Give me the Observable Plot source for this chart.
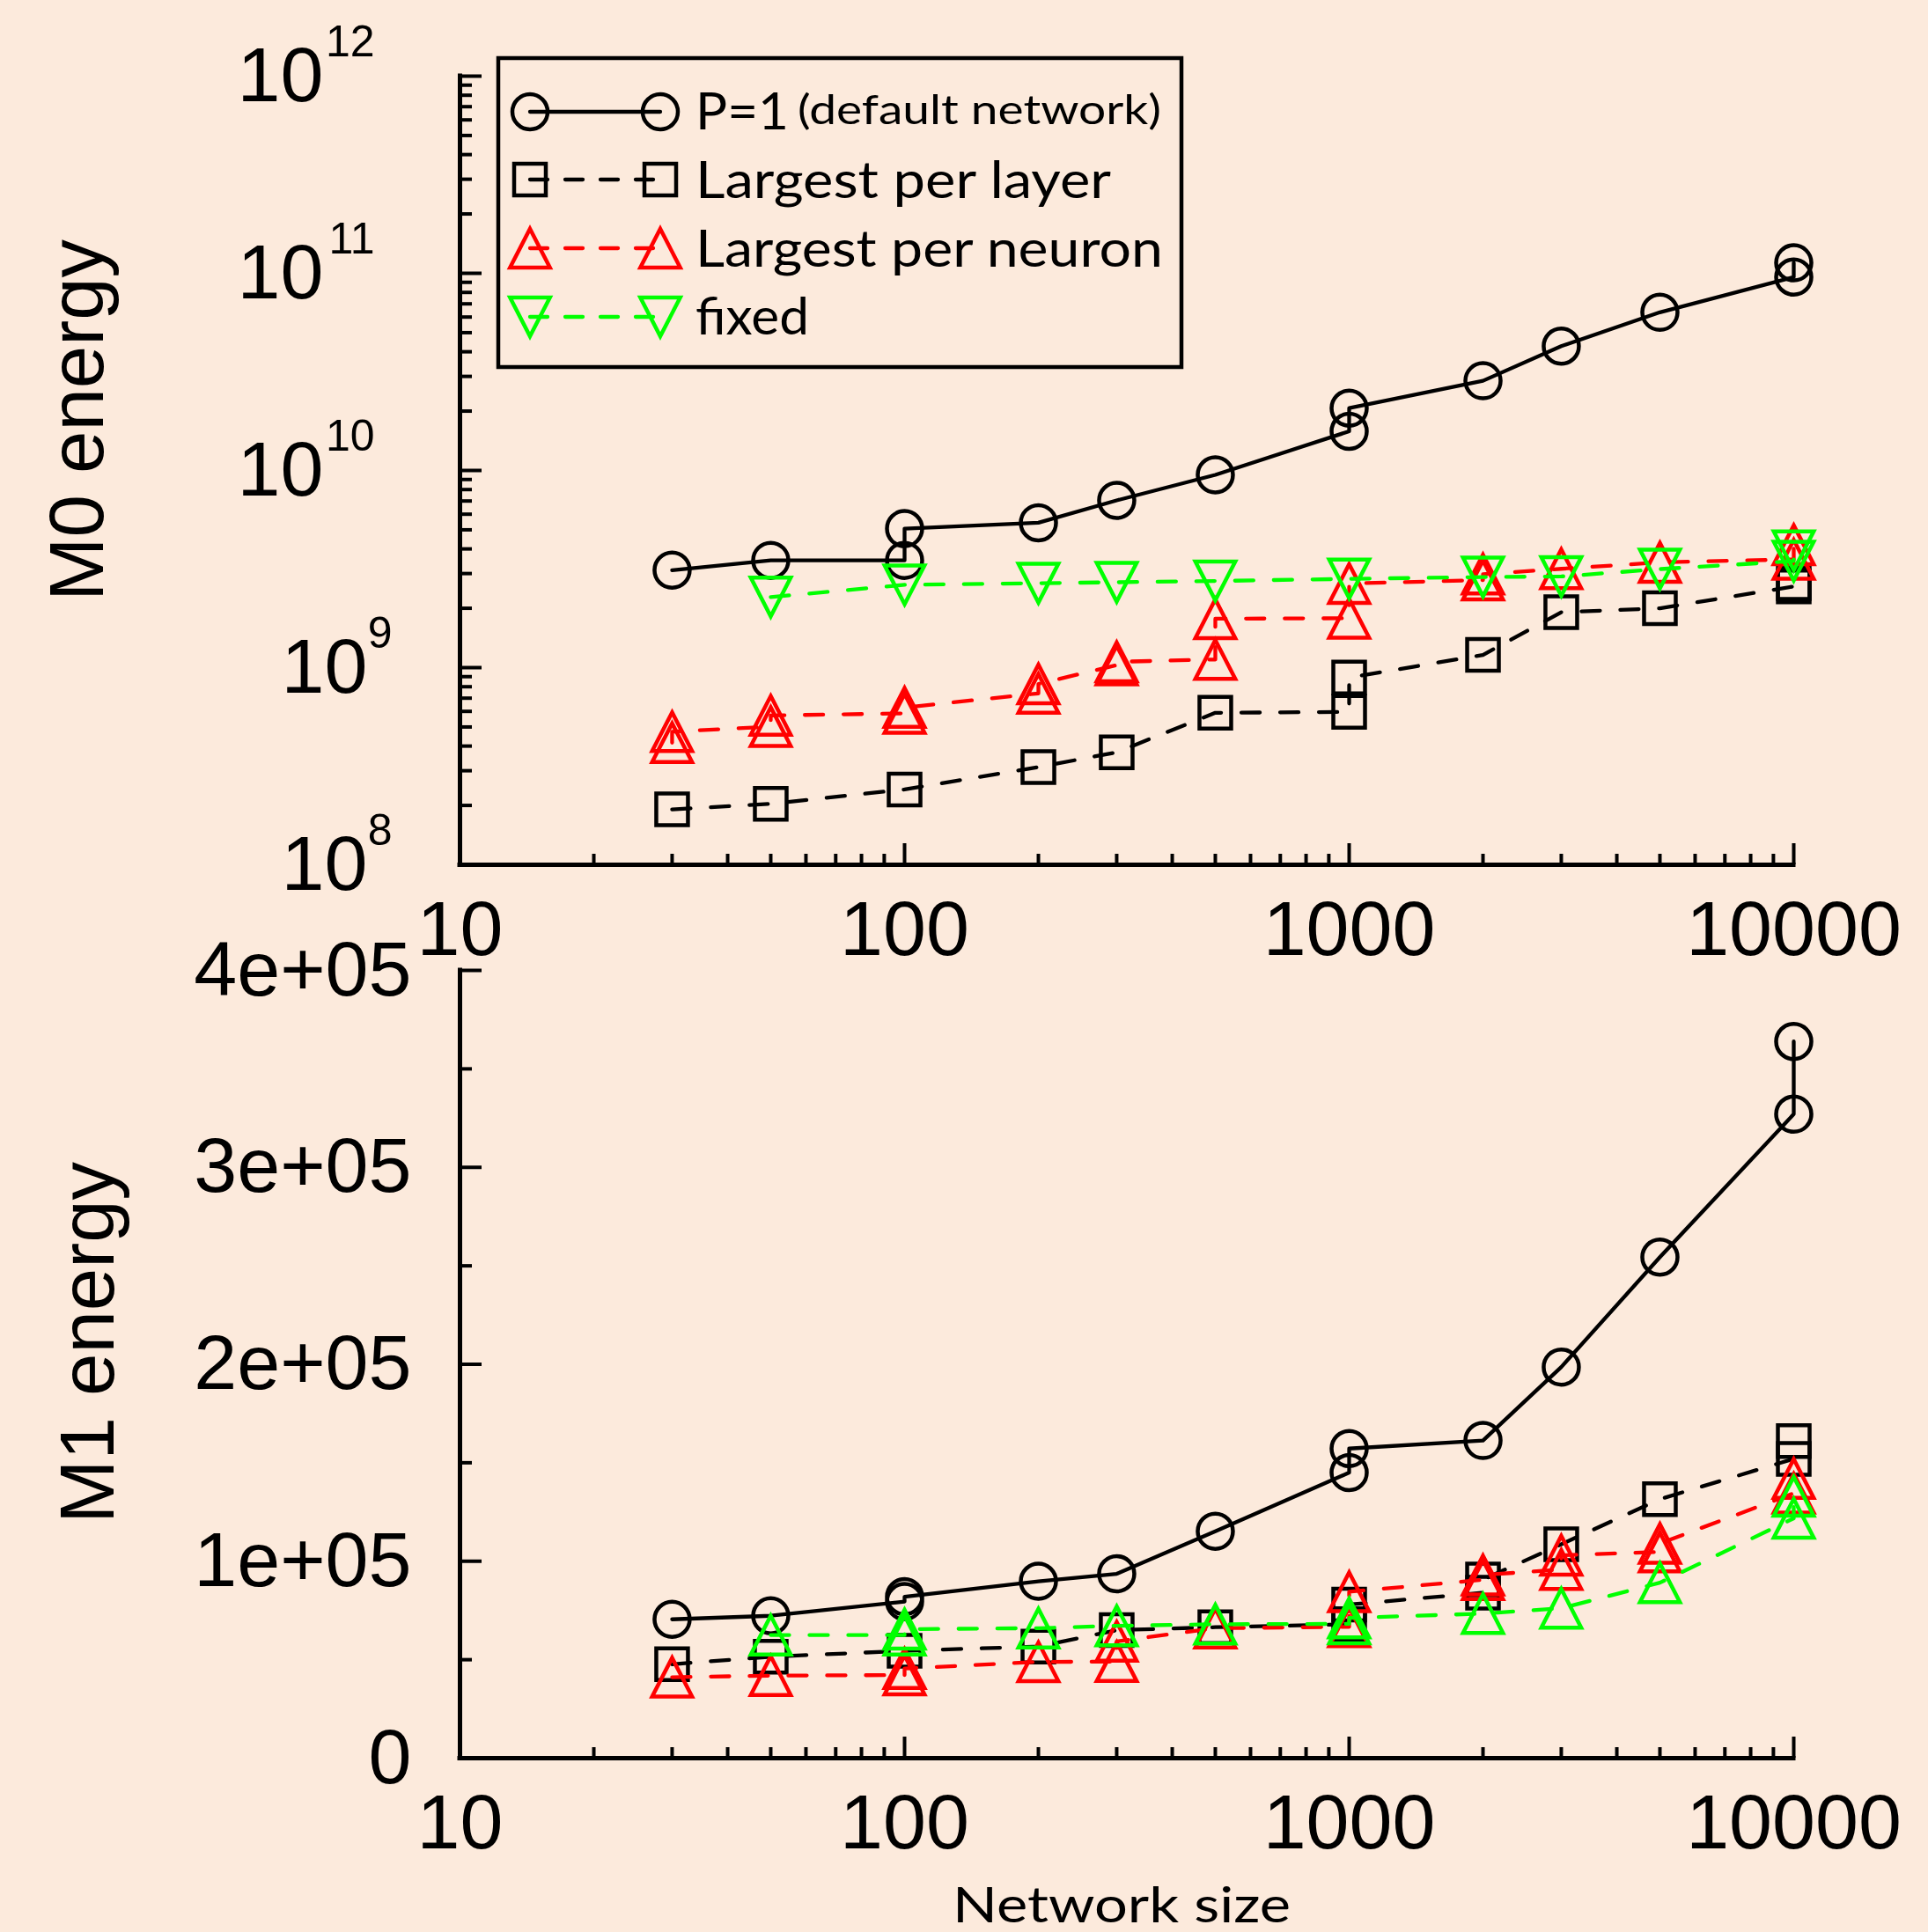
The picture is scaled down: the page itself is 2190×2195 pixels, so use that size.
<!DOCTYPE html>
<html>
<head>
<meta charset="utf-8">
<script src="https://cdn.jsdelivr.net/npm/d3@7"></script>
<script src="https://cdn.jsdelivr.net/npm/@observablehq/plot@0.6"></script>
<style>
html, body { margin: 0; padding: 0; background: #FCEADC; }
#wrap { position: relative; width: 2190px; height: 2195px; overflow: hidden; background: #FCEADC; }
#wrap > svg { position: absolute; left: 0; }
</style>
</head>
<body>
<div id="wrap"></div>
<script>
// ---------------- data ----------------
const seriesNames = ["P=1", "Largest per layer", "Largest per neuron", "fixed"];

const xTicksMajor = [10, 100, 1000, 10000];
const xTickLabels = ["10", "100", "1000", "10000"];
const m0YTicks = [1e8, 1e9, 1e10, 1e11, 1e12];
const m1YTicks = [0, 1e5, 2e5, 3e5, 4e5];
const m1YLabels = ["0", "1e+05", "2e+05", "3e+05", "4e+05"];
const m1YMinor = [5e4, 15e4, 25e4, 35e4];

// M0 energy (top, log scale)
const m0P1Size     = [30, 50, 100, 100, 200, 300, 500, 1000, 1000, 2000, 3000, 5000, 10000, 10000];
const m0P1Energy   = [3.12e9, 3.50e9, 3.50e9, 5.07e9, 5.43e9, 7.05e9, 9.5e9, 1.58e10, 2.07e10, 2.85e10, 4.27e10, 6.34e10, 9.57e10, 1.13e11];
const m0LayerSize  = [30, 50, 100, 200, 300, 500, 1000, 1000, 2000, 3000, 5000, 10000, 10000];
const m0LayerEnergy= [1.91e8, 2.04e8, 2.41e8, 3.13e8, 3.72e8, 5.9e8, 5.96e8, 8.9e8, 1.16e9, 1.91e9, 2.0e9, 2.58e9, 2.68e9];
const m0NeuronSize = [30, 30, 50, 50, 100, 100, 200, 200, 300, 300, 500, 500, 1000, 1000, 2000, 2000, 3000, 5000, 10000, 10000];
const m0NeuronEnergy=[4.16e8, 4.73e8, 5.02e8, 5.72e8, 5.86e8, 6.28e8, 7.4e8, 8.26e8, 1.03e9, 1.07e9, 1.10e9, 1.77e9, 1.78e9, 2.67e9, 2.78e9, 2.98e9, 3.17e9, 3.42e9, 3.54e9, 4.2e9];
const m0FixedSize  = [50, 100, 200, 300, 500, 1000, 2000, 3000, 5000, 10000, 10000];
const m0FixedEnergy= [2.28e9, 2.63e9, 2.68e9, 2.71e9, 2.75e9, 2.82e9, 2.88e9, 2.90e9, 3.16e9, 3.47e9, 3.91e9];

// M1 energy (bottom, linear scale)
const m1P1Size     = [30, 50, 100, 100, 200, 300, 500, 1000, 1000, 2000, 3000, 5000, 10000, 10000];
const m1P1Energy   = [70500, 72300, 79500, 82000, 89800, 93600, 115200, 145000, 157200, 161300, 198600, 254400, 327000, 363900];
const m1LayerSize  = [30, 50, 100, 200, 300, 500, 1000, 1000, 2000, 2000, 3000, 5000, 10000, 10000];
const m1LayerEnergy= [47700, 51500, 54500, 56700, 65000, 66500, 68000, 78000, 84000, 90700, 108600, 131500, 152000, 161000];
const m1NeuronSize = [30, 50, 100, 100, 200, 300, 300, 500, 1000, 1000, 2000, 2000, 3000, 3000, 5000, 5000, 10000, 10000];
const m1NeuronEnergy=[41100, 41900, 42200, 45500, 48900, 49000, 59300, 66000, 66700, 84500, 90600, 93000, 95800, 103000, 104700, 109000, 134500, 142000];
const m1FixedSize  = [50, 100, 100, 200, 300, 500, 1000, 1000, 2000, 3000, 5000, 10000, 10000];
const m1FixedEnergy= [62500, 62500, 65500, 66000, 67200, 68000, 68200, 71200, 73400, 76100, 89100, 121800, 133000];

// ---------------- layout / style ----------------
const W = 2190, L = 522, R = 2037, PW = R - L;
const FONT = "'Liberation Sans', Arial, sans-serif";
const LFONT = "Lato, 'Open Sans', sans-serif";
const LINE_W = 4.3, MARK_W = 4.5, AXIS_W = 5;

const xTicksMinor = [10, 100, 1000].flatMap(d => [2,3,4,5,6,7,8,9].map(k => k * d));
const m0YMinor = [1e8, 1e9, 1e10, 1e11].flatMap(d => [2,3,4,5,6,7,8,9].map(k => k * d));

const symSquare = {draw(c, s) { const r = Math.sqrt(s / Math.PI); c.moveTo(-r, -r); c.lineTo(r, -r); c.lineTo(r, r); c.lineTo(-r, r); c.closePath(); }};
const symUp = {draw(c, s) { const r = Math.sqrt(s / Math.PI); c.moveTo(0, -r); c.lineTo(1.03 * r, r); c.lineTo(-1.03 * r, r); c.closePath(); }};
const symDown = {draw(c, s) { const r = Math.sqrt(s / Math.PI); c.moveTo(0, r); c.lineTo(1.03 * r, -r); c.lineTo(-1.03 * r, -r); c.closePath(); }};

const stP1 = {stroke: "#000000", dash: null, symbol: "circle", r: 20};
const stLayer = {stroke: "#000000", dash: "21,23", symbol: symSquare, r: 18};
const stNeuron = {stroke: "#FF0000", dash: "21,23", symbol: symUp, r: 22};
const stFixedTop = {stroke: "#00FF00", dash: "21,23", symbol: symDown, r: 22};
const stFixedBot = {stroke: "#00FF00", dash: "21,23", symbol: symUp, r: 22};

function seriesMarks(xs, ys, st) {
  const rows = xs.map((x, i) => ({x, y: ys[i]}));
  const lineOpts = {x: "x", y: "y", stroke: st.stroke, strokeWidth: LINE_W, strokeLinecap: "round", strokeLinejoin: "round"};
  if (st.dash) lineOpts.strokeDasharray = st.dash;
  return [
    Plot.line(rows, lineOpts),
    Plot.dot(rows, {x: "x", y: "y", symbol: st.symbol, r: st.r, stroke: st.stroke, fill: "none", strokeWidth: MARK_W})
  ];
}

function frameMarks(ph, yBottom, yMajor, yMinor) {
  return [
    Plot.tickY(yMinor, {y: d => d, insetRight: PW - 14, strokeWidth: 4}),
    Plot.tickY(yMajor, {y: d => d, insetRight: PW - 25, strokeWidth: 4}),
    Plot.tickX(xTicksMinor, {x: d => d, insetTop: ph - 12, strokeWidth: 4}),
    Plot.tickX(xTicksMajor, {x: d => d, insetTop: ph - 24, strokeWidth: 4}),
    Plot.ruleX([10], {strokeWidth: AXIS_W, strokeLinecap: "square"}),
    Plot.ruleY([yBottom], {strokeWidth: AXIS_W, strokeLinecap: "square"}),
    Plot.axisX(xTicksMajor, {tickFormat: d => xTickLabels[xTicksMajor.indexOf(d)], tickSize: 0, tickPadding: 40, fontSize: 88, fontFamily: FONT, label: null})
  ];
}

const svgStyle = {background: "transparent", overflow: "visible", color: "black", fontFamily: FONT};

// ---------------- top panel ----------------
const H1 = 1160, MT1 = 86, MB1 = 1160 - 982, PH1 = H1 - MT1 - MB1;
const expLen = d => String(Math.round(Math.log10(d))).length;
const topLabelMarks = [1, 2].flatMap(len => {
  const data = m0YTicks.filter(d => expLen(d) === len);
  return [
    Plot.text(data, {y: d => d, frameAnchor: "left", text: () => "10", textAnchor: "end", lineAnchor: "middle", dx: (467 - 50 * len) - L, fontSize: 88, fontFamily: FONT}),
    Plot.text(data, {y: d => d, frameAnchor: "left", text: d => String(Math.round(Math.log10(d))), textAnchor: "end", lineAnchor: "bottom", dx: (465 - 20 * len) - L, dy: -23, fontSize: 50, fontFamily: FONT})
  ];
});

const topPlot = Plot.plot({
  width: W, height: H1,
  marginLeft: L, marginRight: W - R, marginTop: MT1, marginBottom: MB1,
  style: svgStyle,
  x: {type: "log", domain: [10, 10000]},
  y: {type: "log", domain: [1e8, 1e12], axis: null},
  marks: [
    ...seriesMarks(m0P1Size, m0P1Energy, stP1),
    ...seriesMarks(m0LayerSize, m0LayerEnergy, stLayer),
    ...seriesMarks(m0NeuronSize, m0NeuronEnergy, stNeuron),
    ...seriesMarks(m0FixedSize, m0FixedEnergy, stFixedTop),
    ...frameMarks(PH1, 1e8, m0YTicks, m0YMinor),
    ...topLabelMarks,
    Plot.text(["M0 energy"], {frameAnchor: "left", text: d => d, rotate: -90, textAnchor: "middle", lineAnchor: "bottom", dx: 116 - L, dy: -57, fontSize: 87, fontFamily: FONT})
  ]
});
topPlot.style.top = "0px";

// ---------------- bottom panel ----------------
const H2 = 1195, MT2 = 102, MB2 = 198, PH2 = H2 - MT2 - MB2;
const botPlot = Plot.plot({
  width: W, height: H2,
  marginLeft: L, marginRight: W - R, marginTop: MT2, marginBottom: MB2,
  style: svgStyle,
  x: {type: "log", domain: [10, 10000]},
  y: {type: "linear", domain: [0, 4e5]},
  marks: [
    ...seriesMarks(m1P1Size, m1P1Energy, stP1),
    ...seriesMarks(m1LayerSize, m1LayerEnergy, stLayer),
    ...seriesMarks(m1NeuronSize, m1NeuronEnergy, stNeuron),
    ...seriesMarks(m1FixedSize, m1FixedEnergy, stFixedBot),
    ...frameMarks(PH2, 0, m1YTicks, m1YMinor),
    Plot.axisY(m1YTicks, {tickFormat: d => m1YLabels[m1YTicks.indexOf(d)], tickSize: 0, tickPadding: 55, fontSize: 88, fontFamily: FONT, label: null}),
    Plot.text(["M1 energy"], {frameAnchor: "left", text: d => d, rotate: -90, textAnchor: "middle", lineAnchor: "bottom", dx: 128 - L, dy: -24.5, fontSize: 87, fontFamily: FONT}),
    Plot.text(["Network size"], {frameAnchor: "bottom", text: d => d, textAnchor: "middle", lineAnchor: "bottom", dx: -6, dy: 186, fontSize: 56, fontFamily: LFONT})
  ]
});
botPlot.style.top = "1000px";
botPlot.querySelectorAll("text").forEach(t => {
  if (t.textContent === "Network size") { t.setAttribute("textLength", 384); t.setAttribute("lengthAdjust", "spacingAndGlyphs"); }
});

const wrap = document.getElementById("wrap");
wrap.appendChild(botPlot);
wrap.appendChild(topPlot);

// ---------------- legend ----------------
const leg = d3.select(wrap).append("svg")
  .attr("width", W).attr("height", 460)
  .style("position", "absolute").style("left", "0px").style("top", "0px");
leg.append("rect").attr("x", 566).attr("y", 66).attr("width", 776).attr("height", 351)
  .attr("fill", "none").attr("stroke", "#000").attr("stroke-width", 4.5);
const legStyles = [stP1, stLayer, stNeuron, stFixedTop];
const rowY = [127, 204, 282, 360];
legStyles.forEach((st, i) => {
  const g = leg.append("g");
  g.append("line").attr("x1", 602).attr("x2", 750).attr("y1", rowY[i]).attr("y2", rowY[i])
    .attr("stroke", st.stroke).attr("stroke-width", LINE_W).attr("stroke-linecap", "round")
    .attr("stroke-dasharray", st.dash ? "20,20" : null);
  const sym = st.symbol === "circle" ? d3.symbolCircle : st.symbol;
  const path = d3.symbol(sym, Math.PI * st.r * st.r)();
  [602, 750].forEach(x => g.append("path").attr("d", path).attr("transform", `translate(${x},${rowY[i]})`)
    .attr("fill", "none").attr("stroke", st.stroke).attr("stroke-width", MARK_W));
});
const legText = [
  {t: "P=1", x: 790, y: 147, fs: 58, len: 106},
  {t: "(default network)", x: 906, y: 141, fs: 46, len: 413},
  {t: seriesNames[1], x: 790, y: 225, fs: 58, len: 472},
  {t: seriesNames[2], x: 790, y: 303, fs: 58, len: 531},
  {t: seriesNames[3], x: 790, y: 380, fs: 58, len: 129}
];
legText.forEach(d => leg.append("text").attr("x", d.x).attr("y", d.y).text(d.t)
  .attr("font-family", LFONT).attr("font-size", d.fs).attr("fill", "#000")
  .attr("textLength", d.len).attr("lengthAdjust", "spacingAndGlyphs"));
</script>
</body>
</html>
